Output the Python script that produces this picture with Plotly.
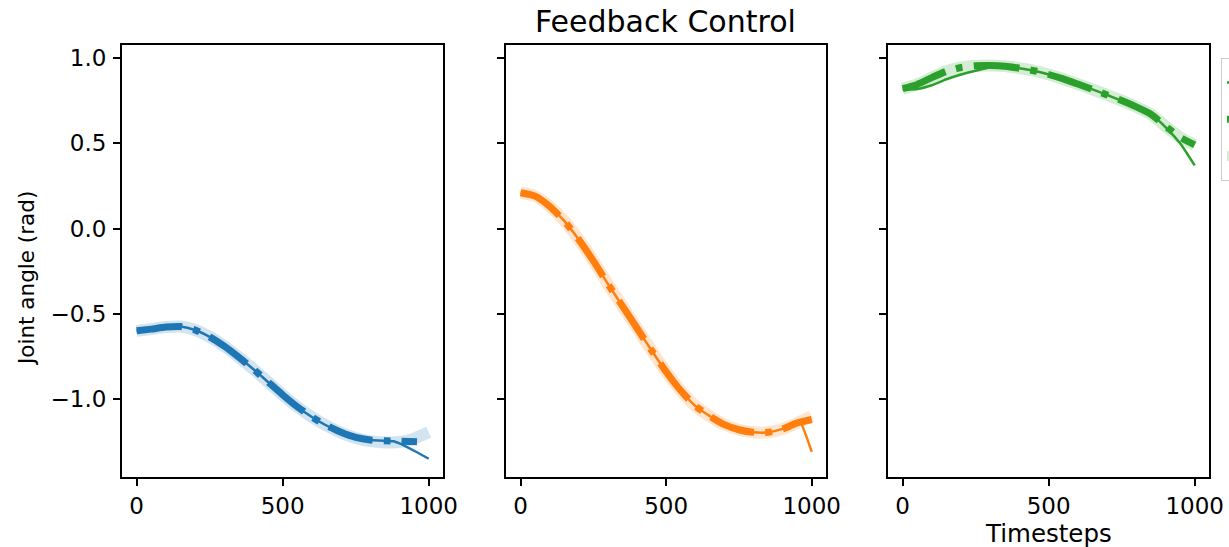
import plotly.graph_objects as go

W, H = 1229, 547

# ---------------- data ----------------
T = [0, 50, 100, 150, 200, 250, 300, 350, 400, 450, 500,
     550, 600, 650, 700, 750, 800, 850, 900, 950, 1000]

# Panel 1 (blue)
blue_band = [-0.60, -0.59, -0.578, -0.575, -0.595, -0.635, -0.69, -0.755, -0.825, -0.90, -0.975,
             -1.045, -1.105, -1.155, -1.197, -1.228, -1.247, -1.254, -1.252, -1.232, -1.195]
blue_dash_t = [0, 50, 100, 150, 200, 250, 300, 350, 400, 450, 500,
               550, 600, 650, 700, 750, 800, 850, 900, 960]
blue_dash = [-0.60, -0.59, -0.578, -0.575, -0.595, -0.635, -0.69, -0.755, -0.825, -0.90, -0.975,
             -1.045, -1.105, -1.155, -1.195, -1.225, -1.24, -1.245, -1.247, -1.25]
blue_thin_t = [0, 50, 100, 150, 200, 250, 300, 350, 400, 450, 500,
               550, 600, 650, 700, 750, 800, 850, 880, 900, 950, 1000]
blue_thin = [-0.60, -0.59, -0.578, -0.575, -0.595, -0.635, -0.69, -0.755, -0.825, -0.90, -0.975,
             -1.045, -1.105, -1.155, -1.195, -1.225, -1.24, -1.245, -1.247, -1.26, -1.303, -1.35]

# Panel 2 (orange)
orange_band = [0.21, 0.19, 0.13, 0.045, -0.065, -0.19, -0.325, -0.455, -0.585, -0.715, -0.84,
               -0.95, -1.04, -1.10, -1.15, -1.18, -1.195, -1.195, -1.175, -1.14, -1.10]
orange_dash = [0.21, 0.19, 0.13, 0.045, -0.065, -0.19, -0.325, -0.455, -0.585, -0.715, -0.84,
               -0.95, -1.04, -1.10, -1.15, -1.18, -1.195, -1.195, -1.175, -1.14, -1.12]
orange_thin_t = [0, 50, 100, 150, 200, 250, 300, 350, 400, 450, 500,
                 550, 600, 650, 700, 750, 800, 850, 900, 950, 960, 1000]
orange_thin = [0.21, 0.19, 0.13, 0.045, -0.065, -0.19, -0.325, -0.455, -0.585, -0.715, -0.84,
               -0.95, -1.04, -1.10, -1.15, -1.18, -1.195, -1.195, -1.175, -1.14, -1.135, -1.31]

# Panel 3 (green)
green_band = [0.82, 0.845, 0.885, 0.922, 0.944, 0.954, 0.956, 0.952, 0.94, 0.925, 0.903,
              0.877, 0.847, 0.816, 0.783, 0.75, 0.713, 0.67, 0.60, 0.535, 0.49]
green_dash = [0.82, 0.845, 0.885, 0.922, 0.944, 0.954, 0.956, 0.952, 0.94, 0.925, 0.903,
              0.877, 0.847, 0.816, 0.783, 0.75, 0.713, 0.67, 0.60, 0.535, 0.49]
green_thin = [0.815, 0.818, 0.84, 0.875, 0.903, 0.925, 0.945, 0.952, 0.94, 0.925, 0.903,
              0.877, 0.847, 0.816, 0.783, 0.75, 0.713, 0.67, 0.595, 0.50, 0.37]

y_ticks = [-1.0, -0.5, 0.0, 0.5, 1.0]
y_tick_text = ["\u22121.0", "\u22120.5", "0.0", "0.5", "1.0"]
x_ticks = [0, 500, 1000]
x_tick_text = ["0", "500", "1000"]

series_names = ["Actual", "Commanded", "Reference"]
title_text = "Feedback Control"
x_label = "Timesteps"
y_label = "Joint angle (rad)"

# ---------------- figure ----------------
FONT = "DejaVu Sans"
panels = [
    ("#1f77b4", "rgba(31,119,180,0.2)", blue_thin_t, blue_thin, blue_dash_t, blue_dash, blue_band),
    ("#ff7f0e", "rgba(255,127,14,0.2)", orange_thin_t, orange_thin, T, orange_dash, orange_band),
    ("#2ca02c", "rgba(44,160,44,0.2)", T, green_thin, T, green_dash, green_band),
]
x_px = [(122, 443), (506, 826), (888, 1209)]
y_top_px, y_bot_px = 45, 477

fig = go.Figure()
for i, (col, band_col, tt, thin, dt, dash, band) in enumerate(panels):
    xa = "x" if i == 0 else f"x{i+1}"
    ya = "y" if i == 0 else f"y{i+1}"
    show = (i == 2)
    fig.add_trace(go.Scatter(x=tt, y=thin, mode="lines", xaxis=xa, yaxis=ya,
                             line=dict(color=col, width=2.5, shape="spline", smoothing=0.6),
                             name=series_names[0], showlegend=show, hoverinfo="skip"))
    fig.add_trace(go.Scatter(x=dt, y=dash, mode="lines", xaxis=xa, yaxis=ya,
                             line=dict(color=col, width=7, shape="spline", smoothing=0.6,
                                       dash="46px,11px,7px,11px"),
                             name=series_names[1], showlegend=show, hoverinfo="skip"))
    fig.add_trace(go.Scatter(x=T, y=band, mode="lines", xaxis=xa, yaxis=ya,
                             line=dict(color=band_col, width=12, shape="spline", smoothing=0.6),
                             name=series_names[2], showlegend=show, hoverinfo="skip"))

axis_common = dict(showline=True, mirror=True, linecolor="black", linewidth=2,
                   ticks="outside", ticklen=7, tickwidth=1.5, tickcolor="black",
                   showgrid=False, zeroline=False,
                   tickfont=dict(family=FONT, size=23, color="black"))

layout = dict(width=W, height=H, plot_bgcolor="white", paper_bgcolor="white",
              margin=dict(l=0, r=0, t=0, b=0, autoexpand=False),
              font=dict(family=FONT, color="black"))
ydom = [(H - y_bot_px) / H, (H - y_top_px) / H]
for i, (l, r) in enumerate(x_px):
    sfx = "" if i == 0 else str(i + 1)
    layout["xaxis" + sfx] = dict(domain=[l / W, r / W], range=[-50, 1049],
                                 tickvals=x_ticks, ticktext=x_tick_text,
                                 anchor="y" + sfx, **axis_common)
    yd = dict(domain=ydom, range=[-1.457, 1.076], tickvals=y_ticks, ticktext=y_tick_text,
              anchor="x" + sfx, ticklabelstandoff=2, **axis_common)
    if i > 0:
        yd["showticklabels"] = False
        yd["matches"] = "y"
    layout["yaxis" + sfx] = yd

layout["legend"] = dict(x=1221 / W, xanchor="left", y=(H - 58) / H, yanchor="top",
                        bordercolor="#cccccc", borderwidth=1, bgcolor="rgba(255,255,255,0.8)",
                        font=dict(family=FONT, size=26, color="black"))
layout["annotations"] = [
    dict(text=title_text, x=665 / W, y=(H - 22) / H, xref="paper", yref="paper",
         xanchor="center", yanchor="middle", showarrow=False,
         font=dict(family=FONT, size=30, color="black")),
    dict(text=x_label, x=1048.5 / W, y=(H - 533) / H, xref="paper", yref="paper",
         xanchor="center", yanchor="middle", showarrow=False,
         font=dict(family=FONT, size=24.5, color="black")),
    dict(text=y_label, x=26 / W, y=(H - 279) / H, xref="paper", yref="paper",
         xanchor="center", yanchor="middle", showarrow=False, textangle=-90,
         font=dict(family=FONT, size=21.5, color="black")),
]
fig.update_layout(**layout)
fig.write_html("out.html")
